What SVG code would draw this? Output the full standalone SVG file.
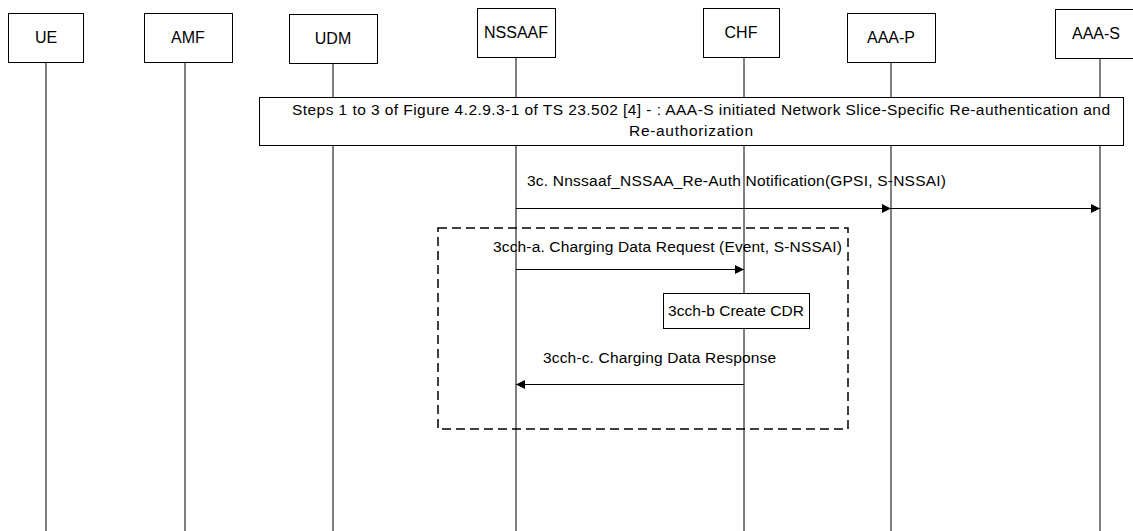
<svg xmlns="http://www.w3.org/2000/svg" width="1133" height="531" viewBox="0 0 1133 531">
<style>
.box{fill:#fff;stroke:#000;stroke-width:1}
.life{stroke:#000;stroke-width:1;fill:none}
.msg{stroke:#000;stroke-width:1;fill:none}
text{font-family:"Liberation Sans",Arial,sans-serif;fill:#000}
.lbl{font-size:16px;text-anchor:middle}
.t{font-size:15.5px}
</style>
<defs>
<marker id="ah" viewBox="0 0 10 10" refX="10" refY="5" markerWidth="11" markerHeight="9" markerUnits="userSpaceOnUse" orient="auto">
<path d="M0,0 L10,5 L0,10 Z" fill="#000"/>
</marker>
</defs>
<g id="lifelines">
<line class="life" x1="46" y1="62" x2="46" y2="531"/>
<line class="life" x1="185" y1="62" x2="185" y2="531"/>
<line class="life" x1="333" y1="63" x2="333" y2="531"/>
<line class="life" x1="516" y1="57" x2="516" y2="531"/>
<line class="life" x1="744" y1="57" x2="744" y2="531"/>
<line class="life" x1="891" y1="62" x2="891" y2="531"/>
<line class="life" x1="1100" y1="58" x2="1100" y2="531"/>
</g>
<g id="UE"><rect class="box" x="8.5" y="13.5" width="75" height="49"/><text class="lbl" x="46" y="43">UE</text></g>
<g id="AMF"><rect class="box" x="144.5" y="13.5" width="88" height="49"/><text class="lbl" x="188" y="43">AMF</text></g>
<g id="UDM"><rect class="box" x="289.5" y="14.5" width="88" height="49"/><text class="lbl" x="333" y="44">UDM</text></g>
<g id="NSSAAF"><rect class="box" x="477.5" y="8.5" width="78" height="49"/><text class="lbl" x="516" y="38">NSSAAF</text></g>
<g id="CHF"><rect class="box" x="703.5" y="8.5" width="76" height="49"/><text class="lbl" x="741" y="38">CHF</text></g>
<g id="AAA-P"><rect class="box" x="847.5" y="13.5" width="88" height="49"/><text class="lbl" x="891" y="43">AAA-P</text></g>
<g id="AAA-S"><rect class="box" x="1055.5" y="9.5" width="90" height="49"/><text class="lbl" x="1096" y="39">AAA-S</text></g>
<g id="steps">
<rect class="box" x="259.5" y="97.5" width="864" height="48"/>
<text class="t" x="292" y="115" textLength="818">Steps 1 to 3 of Figure 4.2.9.3-1 of TS 23.502 [4] - : AAA-S initiated Network Slice-Specific Re-authentication and</text>
<text class="t" x="629" y="136" textLength="124">Re-authorization</text>
</g>
<g id="charging-frame">
<rect x="438" y="228" width="410" height="201" fill="none" stroke="#000" stroke-width="1.5" stroke-dasharray="9,5"/>
</g>
<g id="cdr">
<rect class="box" x="663.5" y="293.5" width="146" height="35"/>
<text class="t" x="668" y="316" textLength="136">3cch-b Create CDR</text>
</g>
<g id="connectors">
<line class="msg" x1="516" y1="208.5" x2="891" y2="208.5" marker-end="url(#ah)"/>
<line class="msg" x1="891" y1="208.5" x2="1100" y2="208.5" marker-end="url(#ah)"/>
<text class="t" x="527" y="186" textLength="419">3c. Nnssaaf_NSSAA_Re-Auth Notification(GPSI, S-NSSAI)</text>
<line class="msg" x1="516" y1="269.5" x2="744" y2="269.5" marker-end="url(#ah)"/>
<text class="t" x="493" y="252" textLength="349">3cch-a. Charging Data Request (Event, S-NSSAI)</text>
<line class="msg" x1="744" y1="384.5" x2="516" y2="384.5" marker-end="url(#ah)"/>
<text class="t" x="543" y="363" textLength="233">3cch-c. Charging Data Response</text>
</g>
</svg>
